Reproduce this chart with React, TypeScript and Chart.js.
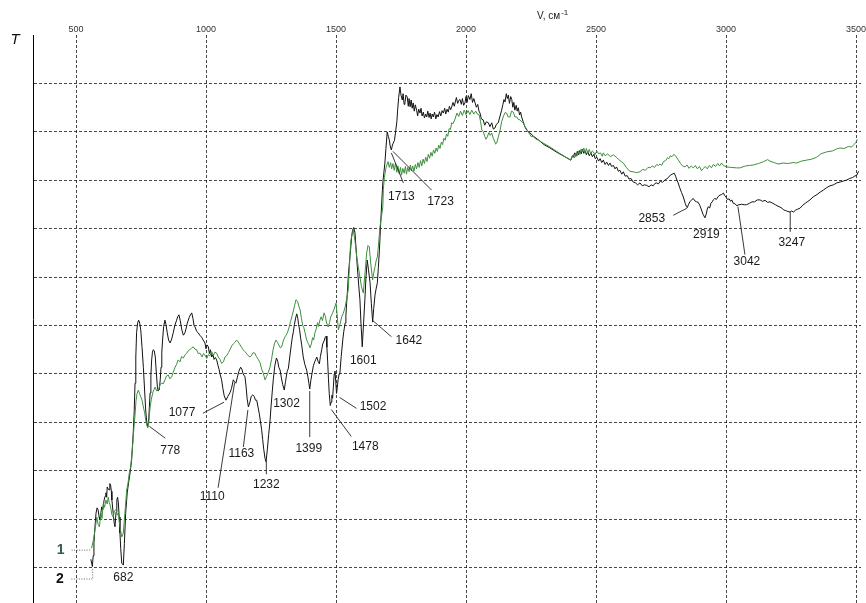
import React, { useEffect, useRef } from 'react';
import { Chart, registerables } from 'chart.js';

Chart.register(...registerables);

// ---------- data ----------
const X_TICKS = [500, 1000, 1500, 2000, 2500, 3000, 3500];
const Y_GRID = [0, 10, 20, 30, 40, 50, 60, 70, 80, 90, 100];
const X_TITLE = 'V, см';
const X_TITLE_SUP = '-1';
const Y_TITLE = 'T';
const SERIES_NAMES = ['1', '2'];

// series 1 (green): [wavenumber, T]
const SERIES_1: [number, number][] = [
  [560, 4.1], [567, 5.8], [573, 7.8], [580, 10.5], [585, 9.0], [590, 8.5], [596, 11.3], [600, 10.2], [605, 13.4], [610, 12.5],
  [615, 14.0], [620, 13.2], [624, 14.6], [628, 13.5], [633, 12.6], [638, 11.0], [643, 10.5], [648, 11.8], [654, 12.0], [659, 10.9],
  [663, 11.3], [669, 8.5], [676, 6.4], [682, 7.2], [688, 11.3], [695, 16.1], [700, 17.5], [705, 19.6], [710, 20.8], [714, 22.9],
  [719, 26.0], [723, 29.1], [727, 31.5], [731, 34.6], [735, 36.0], [740, 36.7], [744, 36.0], [749, 35.3], [754, 34.6], [759, 33.2],
  [764, 32.0], [768, 30.5], [772, 29.5], [776, 28.9], [780, 30.0], [785, 33.2], [790, 34.8], [795, 36.1], [800, 36.8], [804, 37.3],
  [810, 36.5], [817, 36.7], [823, 37.8], [830, 38.1], [836, 38.0], [842, 38.8], [848, 39.6], [855, 39.8], [861, 39.0], [868, 39.4],
  [874, 40.4], [881, 41.4], [887, 42.0], [893, 42.9], [900, 42.5], [906, 43.6], [913, 43.3], [920, 44.0], [926, 44.3], [932, 44.8],
  [938, 45.0], [945, 45.4], [951, 45.6], [958, 45.1], [964, 45.0], [970, 44.2], [977, 44.3], [985, 43.5], [990, 44.2], [996, 43.9],
  [1003, 43.2], [1009, 44.0], [1015, 43.7], [1022, 44.6], [1028, 43.8], [1034, 44.5], [1041, 44.3], [1047, 43.5], [1054, 43.0], [1060, 42.2],
  [1067, 42.5], [1073, 43.5], [1080, 43.8], [1086, 44.4], [1092, 45.0], [1099, 45.8], [1105, 46.2], [1111, 46.5], [1118, 47.0], [1124, 46.6],
  [1131, 46.0], [1137, 45.5], [1143, 45.0], [1150, 44.6], [1156, 44.2], [1162, 43.8], [1169, 43.5], [1175, 43.8], [1181, 44.4], [1188, 44.3],
  [1194, 43.6], [1201, 43.0], [1208, 42.3], [1214, 41.0], [1220, 40.2], [1227, 38.8], [1233, 39.5], [1240, 40.4], [1246, 41.4], [1252, 43.0],
  [1258, 45.0], [1263, 46.2], [1269, 47.0], [1275, 46.5], [1280, 46.0], [1286, 45.4], [1291, 45.6], [1297, 46.8], [1303, 47.6], [1308, 48.0],
  [1313, 48.5], [1319, 49.5], [1325, 50.8], [1330, 51.8], [1336, 53.0], [1341, 54.2], [1346, 55.3], [1352, 55.0], [1357, 54.0], [1362, 53.2],
  [1367, 51.5], [1372, 50.0], [1376, 49.6], [1381, 48.5], [1386, 47.2], [1391, 46.5], [1396, 46.0], [1400, 45.4], [1405, 46.2], [1410, 47.5],
  [1414, 47.0], [1419, 48.5], [1424, 49.3], [1429, 50.6], [1433, 49.8], [1438, 51.1], [1443, 51.8], [1448, 51.0], [1454, 52.6], [1459, 51.9],
  [1464, 50.5], [1470, 49.7], [1475, 50.6], [1480, 51.8], [1487, 52.6], [1493, 53.4], [1500, 54.6], [1504, 52.5], [1509, 49.1], [1515, 50.2],
  [1522, 51.8], [1528, 52.5], [1535, 53.8], [1541, 55.5], [1547, 57.3], [1552, 62.5], [1556, 67.0], [1561, 68.8], [1566, 69.7], [1573, 67.5],
  [1580, 64.1], [1586, 62.0], [1592, 60.0], [1598, 58.0], [1605, 56.7], [1611, 60.5], [1618, 65.0], [1623, 66.5], [1628, 66.2], [1634, 62.5],
  [1641, 59.4], [1645, 60.8], [1650, 62.1], [1655, 63.5], [1659, 64.1], [1664, 67.0], [1669, 70.3], [1675, 72.5], [1680, 74.4], [1682, 78.0],
  [1686, 80.5], [1692, 82.5], [1700, 83.8], [1705, 82.6], [1710, 83.6], [1714, 82.3], [1719, 83.4], [1724, 82.0], [1729, 83.5], [1734, 81.6],
  [1738, 82.9], [1743, 81.3], [1748, 82.6], [1752, 81.0], [1757, 82.4], [1762, 81.4], [1767, 82.8], [1771, 81.2], [1776, 82.6], [1781, 81.7],
  [1786, 83.1], [1790, 81.9], [1795, 82.9], [1800, 81.8], [1805, 83.2], [1810, 82.3], [1815, 83.6], [1820, 82.6], [1825, 84.0], [1830, 82.9],
  [1835, 84.3], [1840, 83.4], [1845, 84.7], [1850, 83.8], [1855, 85.3], [1860, 84.5], [1865, 85.7], [1870, 84.9], [1875, 86.2], [1880, 85.5],
  [1885, 86.6], [1890, 85.9], [1895, 87.2], [1900, 86.5], [1905, 87.8], [1910, 87.3], [1915, 88.6], [1920, 88.2], [1925, 89.5], [1930, 89.0],
  [1935, 90.6], [1940, 90.4], [1945, 91.8], [1950, 91.6], [1958, 92.6],
  [1965, 93.8], [1972, 93.1], [1979, 94.2], [1986, 93.3], [1993, 94.4], [2000, 93.5], [2008, 94.3], [2015, 93.5], [2022, 94.4], [2030, 93.6],
  [2037, 94.2], [2044, 93.6], [2051, 93.4], [2056, 92.0], [2061, 90.3], [2066, 90.0], [2072, 89.0], [2077, 88.4], [2082, 88.9], [2088, 89.8],
  [2093, 89.2], [2099, 89.7], [2105, 88.6], [2110, 88.0], [2114, 87.4], [2118, 87.6], [2124, 88.8], [2131, 90.3], [2137, 92.0], [2143, 93.0],
  [2150, 93.9], [2156, 93.8], [2162, 93.0], [2169, 93.0], [2175, 94.2], [2182, 94.0], [2188, 93.0], [2195, 93.0], [2201, 92.5], [2208, 92.4],
  [2214, 92.0], [2220, 91.8], [2227, 91.0], [2233, 90.5], [2240, 89.9], [2250, 89.0], [2259, 88.9], [2270, 88.4], [2280, 88.2], [2291, 87.8],
  [2323, 86.8], [2360, 85.5], [2403, 84.1], [2408, 85.0], [2413, 85.2], [2418, 84.6], [2423, 85.6], [2428, 85.0], [2433, 86.0], [2438, 85.3],
  [2443, 86.4], [2448, 85.8], [2453, 86.6], [2458, 85.6], [2463, 86.5], [2468, 85.5], [2474, 86.3], [2480, 85.4], [2486, 86.0], [2490, 85.8],
  [2496, 85.2], [2503, 86.0], [2510, 85.4], [2517, 85.6], [2524, 84.9], [2528, 85.6], [2535, 85.0], [2545, 85.4], [2555, 84.8], [2567, 85.2],
  [2580, 84.6], [2592, 84.0], [2605, 83.5], [2618, 82.5], [2630, 81.8], [2643, 81.7], [2656, 81.5], [2669, 81.7], [2680, 82.2], [2690, 82.0],
  [2700, 82.6], [2708, 82.5], [2716, 82.9], [2725, 82.6], [2733, 83.2], [2740, 83.0], [2746, 83.3], [2752, 83.0], [2760, 83.8], [2768, 84.0],
  [2775, 84.6], [2780, 84.4], [2786, 85.0], [2792, 84.8], [2800, 85.3], [2808, 84.8], [2817, 84.1], [2825, 83.4], [2833, 82.9], [2842, 82.7],
  [2850, 83.1], [2858, 82.4], [2866, 82.9], [2874, 82.5], [2882, 83.0], [2890, 82.3], [2898, 82.8], [2906, 81.9], [2913, 82.4], [2920, 82.8],
  [2928, 82.3], [2936, 83.0], [2944, 82.5], [2951, 83.2], [2960, 82.8], [2968, 83.4], [2975, 82.9], [2983, 83.5], [2990, 83.0], [3002, 82.7],
  [3020, 82.6], [3040, 82.5], [3054, 82.5], [3075, 82.9], [3090, 83.0], [3105, 83.1], [3125, 83.4], [3145, 83.8], [3160, 84.2], [3169, 83.9],
  [3185, 83.6], [3200, 83.3], [3220, 83.5], [3240, 83.4], [3258, 83.6], [3272, 83.5], [3290, 83.9], [3310, 84.1], [3330, 84.3], [3349, 84.7],
  [3365, 85.4], [3387, 85.8], [3410, 86.0], [3425, 86.4], [3438, 86.6], [3455, 86.5], [3470, 86.9], [3483, 86.8], [3492, 87.3], [3500, 87.8],
  [3505, 88.4],
];

// series 2 (black): [wavenumber, T]
const SERIES_2: [number, number][] = [
  [557, 1.8], [563, 0.3], [566, 2.5], [569, 5.2], [573, 8.5], [577, 11.3], [581, 12.4], [585, 12.0], [589, 10.5], [592, 9.9],
  [596, 11.5], [599, 12.6], [603, 12.0], [608, 14.0], [612, 14.8], [615, 15.5], [618, 14.6], [620, 16.7], [624, 16.3], [627, 16.1],
  [630, 17.4], [633, 17.1], [636, 15.8], [638, 14.0], [643, 11.3], [647, 9.2], [650, 8.5], [654, 11.5], [657, 14.0], [660, 14.6],
  [663, 13.4], [666, 10.5], [669, 7.2], [672, 4.0], [676, 1.0], [682, 0.6], [686, 5.0], [691, 11.3], [697, 15.5], [702, 17.5],
  [708, 19.6], [714, 22.3], [720, 27.8], [724, 32.5], [727, 38.1], [730, 43.5], [733, 48.5], [737, 50.5], [741, 51.1], [745, 50.5],
  [749, 49.1], [754, 45.5], [759, 41.4], [764, 36.5], [768, 32.6], [772, 30.0], [776, 29.1], [780, 31.0], [785, 36.1], [788, 39.8],
  [791, 42.9], [794, 44.5], [797, 45.0], [801, 44.8], [805, 43.5], [809, 40.2], [813, 37.3], [816, 36.5], [820, 36.7], [824, 38.8],
  [827, 41.4], [830, 44.5], [833, 47.0], [837, 49.8], [842, 51.1], [846, 50.2], [851, 48.5], [856, 47.0], [862, 46.4], [868, 47.2],
  [874, 48.5], [880, 50.0], [887, 51.1], [891, 51.8], [896, 52.2], [901, 51.0], [907, 49.1], [913, 48.0], [919, 48.5], [924, 49.5],
  [928, 50.5], [935, 51.6], [940, 52.2], [945, 52.6], [950, 51.4], [954, 50.0], [958, 49.7], [964, 48.8], [970, 48.5], [976, 48.0],
  [983, 47.6], [989, 47.0], [996, 46.4], [1000, 45.2], [1004, 46.0], [1009, 45.6], [1013, 44.2], [1017, 45.0], [1022, 43.5], [1027, 44.0],
  [1031, 43.0], [1036, 43.4], [1041, 42.9], [1046, 41.8], [1050, 41.0], [1055, 39.8], [1060, 38.8], [1065, 37.0], [1070, 35.5], [1077, 34.6],
  [1084, 35.4], [1092, 36.1], [1098, 37.0], [1105, 38.8], [1110, 38.4], [1115, 38.1], [1120, 39.2], [1126, 40.5], [1133, 41.4], [1138, 41.0],
  [1143, 40.0], [1150, 39.4], [1154, 37.5], [1158, 35.0], [1163, 33.2], [1168, 34.0], [1174, 35.4], [1180, 35.7], [1186, 35.3], [1190, 34.6],
  [1195, 34.6], [1200, 33.2], [1205, 31.8], [1210, 30.0], [1214, 28.5], [1218, 26.5], [1222, 24.5], [1227, 22.6], [1231, 21.9], [1236, 24.5],
  [1241, 27.5], [1246, 30.1], [1250, 33.2], [1255, 36.5], [1259, 39.0], [1265, 41.8], [1271, 43.3], [1276, 42.6], [1280, 41.4], [1285, 40.8],
  [1290, 39.2], [1295, 37.8], [1301, 36.7], [1306, 38.5], [1312, 40.5], [1317, 41.2], [1322, 43.5], [1328, 46.0], [1332, 47.6], [1336, 48.7],
  [1340, 50.2], [1345, 51.6], [1349, 52.4], [1353, 51.5], [1356, 50.2], [1360, 49.1], [1364, 47.4], [1368, 46.0], [1374, 43.5], [1380, 42.0],
  [1387, 40.8], [1392, 39.4], [1396, 38.0], [1399, 36.9], [1403, 38.6], [1408, 40.2], [1413, 41.7], [1418, 42.5], [1422, 43.0], [1426, 43.5],
  [1431, 42.6], [1436, 42.1], [1440, 43.6], [1445, 45.0], [1449, 46.2], [1454, 46.8], [1458, 47.5], [1462, 47.8], [1465, 45.5], [1468, 42.5],
  [1471, 39.0], [1474, 36.0], [1478, 33.5], [1481, 34.2], [1484, 35.6], [1487, 35.0], [1490, 37.5], [1493, 40.0], [1496, 40.6], [1499, 38.5],
  [1502, 36.0], [1505, 37.2], [1508, 38.8], [1512, 40.0], [1515, 40.2], [1520, 43.6], [1526, 47.0], [1530, 48.8], [1535, 50.5], [1538, 52.0],
  [1541, 54.6], [1544, 57.0], [1547, 60.0], [1551, 62.6], [1556, 65.6], [1560, 68.2], [1564, 69.7], [1568, 70.2], [1573, 69.1], [1577, 66.0],
  [1582, 62.1], [1587, 58.5], [1592, 55.3], [1596, 50.5], [1601, 45.6], [1606, 50.5], [1611, 55.3], [1615, 59.6], [1620, 63.5], [1625, 61.5],
  [1631, 58.8], [1636, 54.5], [1641, 50.7], [1645, 53.5], [1650, 56.3], [1654, 57.5], [1659, 58.8], [1663, 62.0], [1667, 65.6], [1672, 71.3],
  [1676, 75.5], [1680, 79.4], [1684, 81.5], [1688, 83.5], [1692, 86.5], [1697, 89.9], [1701, 89.0], [1705, 88.3], [1709, 86.8], [1713, 86.2],
  [1717, 87.2], [1720, 87.6], [1725, 88.2], [1730, 90.3], [1734, 92.0], [1737, 94.4], [1741, 97.0], [1746, 99.2], [1750, 97.5], [1755, 96.5],
  [1758, 97.8], [1762, 95.6], [1765, 95.9], [1769, 97.5], [1774, 97.1], [1778, 95.2], [1781, 96.8], [1785, 95.1], [1789, 96.5], [1793, 94.8],
  [1797, 95.9], [1801, 94.2], [1805, 95.5], [1810, 94.4], [1814, 93.2], [1818, 94.6], [1823, 93.8], [1827, 94.8], [1831, 93.2], [1836, 94.0],
  [1840, 92.8], [1845, 93.6], [1849, 93.0], [1853, 94.2], [1858, 92.9], [1862, 93.8], [1866, 92.6], [1870, 93.6], [1874, 93.0], [1879, 94.0],
  [1884, 92.6], [1888, 93.5], [1893, 93.0], [1898, 94.1], [1903, 93.2], [1908, 94.3], [1913, 93.8], [1918, 94.8], [1922, 93.6], [1927, 94.6],
  [1932, 94.0], [1936, 95.2], [1941, 94.5], [1945, 95.1], [1950, 96.0], [1955, 95.2], [1958, 95.9], [1963, 97.0], [1968, 95.8], [1972, 96.4],
  [1977, 96.6], [1982, 95.6], [1986, 96.8], [1991, 95.4], [1996, 95.9], [2000, 97.2], [2004, 96.0], [2009, 97.4], [2015, 96.6], [2020, 97.8],
  [2025, 96.0], [2030, 96.8], [2035, 95.9], [2040, 95.0], [2045, 95.6], [2050, 94.2], [2054, 93.8], [2059, 92.6], [2066, 92.4], [2072, 91.3],
  [2078, 92.0], [2086, 91.8], [2092, 91.0], [2099, 91.8], [2105, 90.5], [2111, 90.7], [2117, 91.5], [2124, 91.8], [2130, 93.0], [2137, 94.4],
  [2142, 95.6], [2146, 96.6], [2150, 96.1], [2155, 97.8], [2159, 96.8], [2163, 97.5], [2167, 95.8], [2172, 97.2], [2176, 96.6], [2180, 95.0],
  [2184, 96.0], [2188, 94.4], [2193, 95.4], [2197, 94.2], [2201, 94.9], [2206, 93.4], [2210, 94.0], [2214, 93.0], [2220, 92.0], [2227, 90.9],
  [2235, 90.2], [2246, 89.7], [2260, 89.0], [2280, 88.2], [2300, 87.3], [2323, 86.6], [2350, 85.7], [2380, 84.8], [2403, 84.1], [2408, 84.8],
  [2413, 84.7], [2418, 85.6], [2423, 84.9], [2428, 85.9], [2433, 85.2], [2438, 86.1], [2443, 85.4], [2448, 86.3], [2453, 85.5], [2458, 86.0],
  [2463, 85.2], [2468, 85.9], [2474, 85.0], [2480, 85.6], [2486, 84.8], [2492, 85.3], [2497, 84.4], [2503, 84.7], [2510, 83.9], [2516, 84.4],
  [2522, 83.6], [2528, 84.1], [2535, 83.2], [2541, 83.7], [2548, 83.0], [2554, 83.5], [2560, 82.8], [2567, 83.0], [2573, 82.3], [2579, 82.7],
  [2586, 81.8], [2592, 82.0], [2599, 81.2], [2605, 81.7], [2612, 80.8], [2620, 80.9], [2627, 80.2], [2635, 80.3], [2643, 79.6], [2652, 79.4],
  [2660, 79.0], [2669, 79.4], [2678, 78.8], [2686, 79.0], [2695, 78.9], [2704, 78.6], [2712, 79.0], [2720, 78.8], [2727, 79.3], [2733, 79.4],
  [2740, 79.2], [2748, 79.8], [2755, 79.5], [2765, 80.0], [2772, 80.2], [2779, 80.6], [2786, 81.0], [2793, 81.2], [2801, 81.4], [2806, 80.8],
  [2811, 80.0], [2816, 79.4], [2822, 78.4], [2829, 77.4], [2836, 76.5], [2843, 75.2], [2847, 74.6], [2851, 74.3], [2856, 75.0], [2862, 75.6],
  [2868, 75.9], [2874, 76.2], [2880, 75.7], [2887, 75.5], [2893, 75.4], [2899, 74.8], [2906, 73.8], [2911, 73.0], [2915, 72.6], [2919, 72.2],
  [2924, 73.0], [2928, 74.0], [2932, 74.5], [2937, 74.2], [2942, 75.2], [2947, 75.5], [2951, 75.9], [2957, 76.2], [2963, 76.0], [2970, 76.6],
  [2977, 76.9], [2983, 77.0], [2990, 77.3], [2995, 76.8], [3000, 76.5], [3005, 76.0], [3012, 76.1], [3018, 75.6], [3022, 75.9], [3028, 75.2],
  [3035, 75.1], [3041, 74.7], [3050, 74.9], [3060, 75.0], [3070, 74.9], [3079, 74.9], [3090, 75.2], [3100, 75.5], [3110, 75.5], [3120, 75.9],
  [3131, 75.9], [3140, 75.6], [3150, 75.8], [3160, 75.4], [3169, 75.5], [3180, 75.2], [3190, 74.9], [3200, 74.6], [3208, 74.4], [3215, 74.2],
  [3222, 73.8], [3230, 73.7], [3238, 73.5], [3246, 73.4], [3252, 73.6], [3260, 73.4], [3268, 73.8], [3276, 74.0], [3285, 74.2], [3295, 74.8],
  [3305, 75.2], [3315, 75.6], [3323, 75.9], [3335, 76.5], [3350, 77.0], [3362, 77.5], [3374, 77.9], [3386, 78.4], [3400, 78.8], [3413, 79.0],
  [3426, 79.4], [3440, 79.6], [3452, 79.8], [3464, 80.0], [3475, 80.3], [3486, 80.5], [3495, 80.8], [3503, 81.0], [3510, 81.8],
];

// band positions marked on curve 2
const PEAKS_2 = [682, 778, 1077, 1110, 1163, 1232, 1302, 1399, 1478, 1502, 1601, 1642, 1713, 1723, 2853, 2919, 3042, 3247];

// ---------- layout / style ----------
const FONT = '"Liberation Sans", Arial, Helvetica, sans-serif';
const GREEN = '#3d8f3d';
const BLACK = '#121212';
const GRID = 'rgba(0,0,0,0.72)';

// label offsets (px) relative to the band point: text centre and leader line
const LABEL_LAYOUT: Record<number, { dx: number; dy: number; lead?: number[] }> = {
  682: { dx: 0, dy: 13 },
  778: { dx: 22, dy: 28, lead: [1, 4, 17, 16] },
  1077: { dx: -44, dy: 13, lead: [-2, 2, -23, 13] },
  1110: { dx: -22.5, dy: 115, lead: [0, 1, -16.5, 106] },
  1163: { dx: -7, dy: 47, lead: [-0.5, 3, -5, 40] },
  1232: { dx: 0, dy: 25, lead: [0, 2, 0, 15] },
  1302: { dx: 2, dy: 15 },
  1399: { dx: -1, dy: 60, lead: [0, 2, 0, 48] },
  1478: { dx: 35, dy: 41.5, lead: [1, 4, 21, 31] },
  1502: { dx: 36.5, dy: 13.5, lead: [3, 4, 20, 15] },
  1601: { dx: 1, dy: 14 },
  1642: { dx: 36, dy: 22, lead: [0, 2, 18.5, 18] },
  1713: { dx: 10, dy: 47, lead: [0, 3, 12, 33] },
  1723: { dx: 46.5, dy: 60, lead: [-1, 10, 37.5, 48.6] },
  2853: { dx: -36, dy: 12, lead: [-1, 2, -14.5, 9] },
  2919: { dx: 1.5, dy: 17 },
  3042: { dx: 10, dy: 56, lead: [1, 1, 8, 49] },
  3247: { dx: 1.5, dy: 31, lead: [0, 0, 0, 20] },
};

function interp(series: [number, number][], v: number): number {
  for (let i = 1; i < series.length; i++) {
    const [x0, y0] = series[i - 1];
    const [x1, y1] = series[i];
    if (v >= x0 && v <= x1) {
      return y0 + ((y1 - y0) * (v - x0)) / (x1 - x0);
    }
  }
  return series[series.length - 1][1];
}

const annotatePlugin = {
  id: 'annotate',
  afterDatasetsDraw(chart: any) {
    const { ctx, scales } = chart;
    const xs = scales.x;
    const ys = scales.y;
    ctx.save();
    ctx.font = `12px ${FONT}`;
    ctx.fillStyle = '#1a1a1a';
    ctx.strokeStyle = '#222';
    ctx.lineWidth = 0.9;
    ctx.textAlign = 'center';
    ctx.textBaseline = 'middle';
    PEAKS_2.forEach((p) => {
      const L = LABEL_LAYOUT[p];
      const px = xs.getPixelForValue(p);
      const py = ys.getPixelForValue(interp(SERIES_2, p));
      if (L.lead) {
        ctx.beginPath();
        ctx.moveTo(px + L.lead[0], py + L.lead[1]);
        ctx.lineTo(px + L.lead[2], py + L.lead[3]);
        ctx.stroke();
      }
      ctx.fillText(String(p), px + L.dx, py + L.dy);
    });

    // series labels 1 and 2 with dotted leaders
    const seriesList = [SERIES_1, SERIES_2];
    const seriesLab = [
      { color: '#2f5f48', idx: 0, dx: -31, dy: 2, path: [[-20, 2], [-2, 2], [-2, 0]] },
      { color: '#111', idx: 1, dx: -32.5, dy: 12.5, path: [[-21, 12.5], [0.3, 12.5], [0.3, 1.5]] },
    ];
    seriesLab.forEach((s, i) => {
      const pt = seriesList[i][s.idx];
      const px = xs.getPixelForValue(pt[0]);
      const py = ys.getPixelForValue(pt[1]);
      ctx.save();
      ctx.strokeStyle = '#666';
      ctx.lineWidth = 1;
      ctx.setLineDash([1, 1.5]);
      ctx.beginPath();
      s.path.forEach(([ox, oy], k) => {
        if (k === 0) ctx.moveTo(px + ox, py + oy);
        else ctx.lineTo(px + ox, py + oy);
      });
      ctx.stroke();
      ctx.restore();
      ctx.font = `bold 14px ${FONT}`;
      ctx.fillStyle = s.color;
      ctx.fillText(SERIES_NAMES[i], px + s.dx, py + s.dy);
    });

    // axis titles
    ctx.font = `italic 15px ${FONT}`;
    ctx.fillStyle = '#111';
    ctx.fillText(Y_TITLE, 15, 40);
    ctx.textAlign = 'left';
    ctx.textBaseline = 'alphabetic';
    ctx.font = `10px ${FONT}`;
    ctx.fillStyle = '#222';
    ctx.fillText(X_TITLE, 537, 19);
    const w = ctx.measureText(X_TITLE).width;
    ctx.font = `8px ${FONT}`;
    ctx.fillText(X_TITLE_SUP, 537 + w + 1, 15);
    ctx.restore();
  },
};

export default function App() {
  const ref = useRef<HTMLCanvasElement | null>(null);
  useEffect(() => {
    if (!ref.current) return;
    const chart = new Chart(ref.current, {
      type: 'line',
      data: {
        datasets: [
          {
            label: SERIES_NAMES[0],
            data: SERIES_1.map(([x, y]) => ({ x, y })),
            borderColor: GREEN,
            borderWidth: 1,
            pointRadius: 0,
            tension: 0,
            fill: false,
          },
          {
            label: SERIES_NAMES[1],
            data: SERIES_2.map(([x, y]) => ({ x, y })),
            borderColor: BLACK,
            borderWidth: 1,
            pointRadius: 0,
            tension: 0,
            fill: false,
          },
        ],
      },
      options: {
        responsive: false,
        animation: false,
        devicePixelRatio: 1,
        parsing: false,
        layout: { padding: { left: 0, right: 5, top: 0, bottom: 0 } },
        plugins: {
          legend: { display: false },
          tooltip: { enabled: false },
          title: { display: false },
        },
        scales: {
          x: {
            type: 'linear',
            position: 'top',
            min: 334.6,
            max: 3519.2,
            afterBuildTicks: (s: any) => {
              s.ticks = X_TICKS.map((v) => ({ value: v }));
            },
            afterFit: (s: any) => {
              s.height = 35;
              s.paddingLeft = 0;
              s.paddingRight = 0;
            },
            ticks: {
              font: { size: 9, family: FONT },
              color: '#333',
              padding: 0,
              maxRotation: 0,
              autoSkip: false,
              callback: (v: any) => String(v),
            },
            grid: { color: GRID, lineWidth: 1, drawTicks: false },
            border: { display: false, dash: [3, 2] },
          },
          y: {
            type: 'linear',
            min: -7.22,
            max: 109.9,
            afterBuildTicks: (s: any) => {
              s.ticks = Y_GRID.map((v) => ({ value: v }));
            },
            afterFit: (s: any) => {
              s.width = 33;
            },
            ticks: { display: false },
            grid: { color: GRID, lineWidth: 1, drawTicks: false },
            border: { display: true, color: '#000', width: 1, dash: [3, 2] },
          },
        },
      } as any,
      plugins: [annotatePlugin],
    });
    return () => chart.destroy();
  }, []);
  return (
    <div style={{ position: 'absolute', left: 0, top: 0, width: 866, height: 603, background: '#fff' }}>
      <canvas ref={ref} width={866} height={603} style={{ display: 'block' }} />
    </div>
  );
}
